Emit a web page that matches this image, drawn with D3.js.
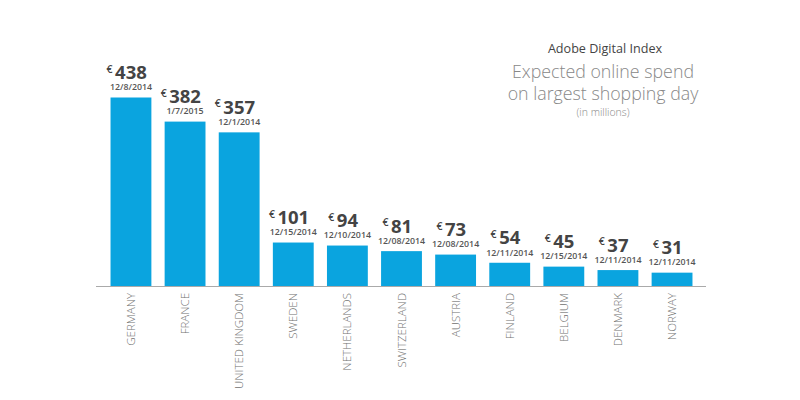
<!DOCTYPE html>
<html>
<head>
<meta charset="utf-8">
<script src="https://cdnjs.cloudflare.com/ajax/libs/d3/7.8.5/d3.min.js"></script>
<style>
  html, body { margin: 0; padding: 0; background: #fff; }
  svg { display: block; font-family: "Open Sans", sans-serif; }
</style>
</head>
<body>
<svg id="chart" width="800" height="400"></svg>
<script>
// data
const countries = ["GERMANY", "FRANCE", "UNITED KINGDOM", "SWEDEN", "NETHERLANDS",
    "SWITZERLAND", "AUSTRIA", "FINLAND", "BELGIUM", "DENMARK", "NORWAY"]
const spend = [438, 382, 357, 101, 94, 81, 73, 54, 45, 37, 31]
const peakDays = ["12/8/2014", "1/7/2015", "12/1/2014", "12/15/2014", "12/10/2014",
    "12/08/2014", "12/08/2014", "12/11/2014", "12/15/2014", "12/11/2014", "12/11/2014"]
const titleLines = ["Expected online spend", "on largest shopping day"]

const rows = countries.map((c, i) => ({ country: c, value: spend[i], date: peakDays[i] }))

const svg = d3.select("#chart")
const base = 286

const x = d3.scaleBand()
    .domain(countries)
    .range([97, 706])
    .paddingInner(0.245)
    .paddingOuter(0.25)

const y = d3.scaleLinear()
    .domain([0, 438])
    .range([base, 97.5])

// bars
svg.append("g")
    .selectAll("rect")
    .data(rows)
    .join("rect")
    .attr("x", d => x(d.country))
    .attr("y", d => y(d.value))
    .attr("width", x.bandwidth())
    .attr("height", d => base - y(d.value))
    .attr("fill", "#0aa4df")

// baseline
svg.append("line")
    .attr("x1", 96).attr("x2", 706)
    .attr("y1", base + 0.5).attr("y2", base + 0.5)
    .attr("stroke", "#aaa")
    .attr("stroke-width", 1)

// country labels, rotated
svg.append("g")
    .selectAll("text")
    .data(rows)
    .join("text")
    .attr("transform", d => `translate(${x(d.country) + x.bandwidth() / 2 + 4},${base + 7}) rotate(-90)`)
    .attr("text-anchor", "end")
    .attr("font-size", 11.5)
    .attr("font-weight", 300)
    .attr("fill", "#6f6f6f")
    .text(d => d.country)

// value labels: € + number, date underneath
const lab = svg.append("g")
    .selectAll("g")
    .data(rows)
    .join("g")
    .attr("transform", d => `translate(${x(d.country) + x.bandwidth() / 2},${y(d.value)})`)

lab.append("text")
    .attr("class", "num")
    .attr("y", -18.5)
    .attr("text-anchor", "middle")
    .attr("font-size", 18.5)
    .attr("font-weight", 700)
    .attr("fill", "#444")
    .text(d => d.value)

lab.append("text")
    .attr("y", -25)
    .attr("text-anchor", "end")
    .attr("font-size", 10.5)
    .attr("font-weight", 600)
    .attr("fill", "#444")
    .attr("x", function () {
        const w = this.parentNode.querySelector(".num").getComputedTextLength()
        return -w / 2 - 2.5
    })
    .text("€")

lab.append("text")
    .attr("y", -7.2)
    .attr("text-anchor", "middle")
    .attr("font-size", 8.8)
    .attr("font-weight", 600)
    .attr("fill", "#555")
    .text(d => d.date)

// title block
const tx = 603
svg.append("text")
    .attr("x", tx + 2).attr("y", 52.5)
    .attr("text-anchor", "middle")
    .attr("font-size", 12.6)
    .attr("fill", "#444")
    .text("Adobe Digital Index")

svg.append("g")
    .selectAll("text")
    .data(titleLines)
    .join("text")
    .attr("x", tx)
    .attr("y", (d, i) => 77.5 + i * 22)
    .attr("text-anchor", "middle")
    .attr("font-size", 17.8)
    .attr("font-weight", 300)
    .attr("fill", "#888")
    .text(d => d)

svg.append("text")
    .attr("x", tx).attr("y", 115.5)
    .attr("text-anchor", "middle")
    .attr("font-size", 10.5)
    .attr("font-weight", 300)
    .attr("fill", "#888")
    .text("(in millions)")
</script>
</body>
</html>
